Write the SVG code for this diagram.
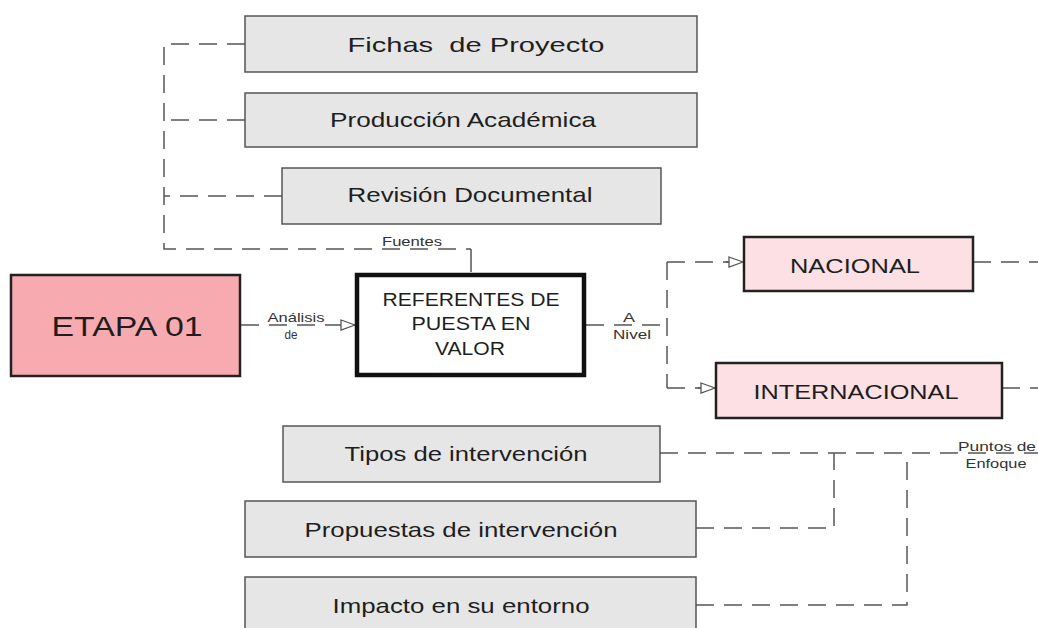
<svg xmlns="http://www.w3.org/2000/svg" width="1038" height="628" viewBox="0 0 1038 628">
<defs>
<style>
.gbox{fill:#e6e6e6;stroke:#555;stroke-width:1.5}
.lbl{font-family:"Liberation Sans",Arial,sans-serif;font-size:21px;fill:#1e1e1e;text-anchor:middle;dominant-baseline:central}
.cap{font-family:"Liberation Sans",Arial,sans-serif;font-size:13px;fill:#333;text-anchor:middle}
.dash{fill:none;stroke:#555;stroke-width:1.5;stroke-dasharray:18 10}
.solid{fill:none;stroke:#555;stroke-width:1.5}
</style>
<marker id="tri" viewBox="0 0 16 12" refX="15" refY="6" markerWidth="16" markerHeight="12" markerUnits="userSpaceOnUse" orient="auto">
<path d="M1,1 L15,6 L1,11 Z" fill="#fff" stroke="#555" stroke-width="1.3"/>
</marker>
</defs>
<rect width="1038" height="628" fill="#fff"/>
<g id="connectors">
<path class="dash" d="M245,44 H164 V249 H471"/>
<path class="dash" d="M245,120 H164"/>
<path class="dash" d="M282,196 H164"/>
<path class="solid" d="M471,249 V272"/>
<path class="dash" d="M241,325 H340"/>
<path class="solid" d="M340,325 H355" marker-end="url(#tri)"/>
<path class="dash" d="M586,325 H667"/>
<path class="dash" d="M667,262 V388"/>
<path class="dash" d="M667,262 H728"/>
<path class="solid" d="M726,262 H743" marker-end="url(#tri)"/>
<path class="dash" d="M667,388 H700"/>
<path class="solid" d="M698,388 H715" marker-end="url(#tri)"/>
<path class="dash" d="M973,262 H1038"/>
<path class="dash" d="M1002,388 H1038"/>
<path class="dash" d="M660,453 H1038"/>
<path class="dash" d="M696,528 H834 V453"/>
<path class="dash" d="M696,605 H907 V453"/>
<text class="cap" x="412" y="246" textLength="60" lengthAdjust="spacingAndGlyphs">Fuentes</text>
<text class="cap" x="296" y="322" textLength="57" lengthAdjust="spacingAndGlyphs">Análisis</text>
<text class="cap" x="291" y="339" textLength="13" lengthAdjust="spacingAndGlyphs">de</text>
<text class="cap" x="629" y="322" textLength="12" lengthAdjust="spacingAndGlyphs">A</text>
<text class="cap" x="632" y="339" textLength="38" lengthAdjust="spacingAndGlyphs">Nivel</text>
<text class="cap" x="997" y="451" textLength="78" lengthAdjust="spacingAndGlyphs">Puntos de</text>
<text class="cap" x="996" y="468" textLength="61" lengthAdjust="spacingAndGlyphs">Enfoque</text>
</g>
<g id="fichas"><rect class="gbox" x="245" y="16" width="452" height="56"/><text class="lbl" x="476" y="44" textLength="257" lengthAdjust="spacingAndGlyphs" xml:space="preserve">Fichas  de Proyecto</text></g>
<g id="produccion"><rect class="gbox" x="245" y="93" width="452" height="54"/><text class="lbl" x="463" y="119" textLength="266" lengthAdjust="spacingAndGlyphs">Producción Académica</text></g>
<g id="revision"><rect class="gbox" x="282" y="168" width="379" height="56"/><text class="lbl" x="470" y="194" textLength="245" lengthAdjust="spacingAndGlyphs">Revisión Documental</text></g>
<g id="etapa"><rect x="11" y="275" width="229" height="101" fill="#f7aab0" stroke="#222" stroke-width="2.5"/><text class="lbl" x="127" y="326" style="font-size:28px" textLength="151" lengthAdjust="spacingAndGlyphs">ETAPA 01</text></g>
<g id="referentes"><rect x="357" y="275" width="227" height="100" fill="#fff" stroke="#111" stroke-width="4.5"/>
<text class="lbl" x="471" y="300" style="font-size:18px" textLength="177" lengthAdjust="spacingAndGlyphs">REFERENTES DE</text>
<text class="lbl" x="471" y="324" style="font-size:18px" textLength="119" lengthAdjust="spacingAndGlyphs">PUESTA EN</text>
<text class="lbl" x="470" y="349" style="font-size:18px" textLength="70" lengthAdjust="spacingAndGlyphs">VALOR</text></g>
<g id="nacional"><rect x="744" y="237" width="229" height="54" fill="#fce0e3" stroke="#222" stroke-width="2.5"/><text class="lbl" x="855" y="265" textLength="130" lengthAdjust="spacingAndGlyphs">NACIONAL</text></g>
<g id="internacional"><rect x="716" y="363" width="286" height="55" fill="#fce0e3" stroke="#222" stroke-width="2.5"/><text class="lbl" x="856" y="391" textLength="205" lengthAdjust="spacingAndGlyphs">INTERNACIONAL</text></g>
<g id="tipos"><rect class="gbox" x="283" y="426" width="377" height="56"/><text class="lbl" x="466" y="453" textLength="243" lengthAdjust="spacingAndGlyphs">Tipos de intervención</text></g>
<g id="propuestas"><rect class="gbox" x="245" y="501" width="451" height="56"/><text class="lbl" x="461" y="529" textLength="313" lengthAdjust="spacingAndGlyphs">Propuestas de intervención</text></g>
<g id="impacto"><rect class="gbox" x="245" y="577" width="451" height="60"/><text class="lbl" x="461" y="605" textLength="257" lengthAdjust="spacingAndGlyphs">Impacto en su entorno</text></g>
</svg>
